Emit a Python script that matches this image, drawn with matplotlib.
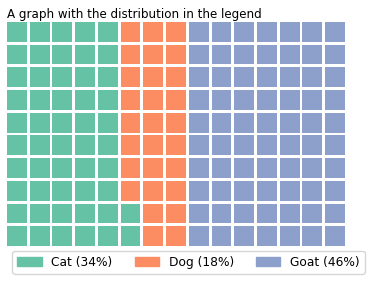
import matplotlib
matplotlib.use("Agg")
import matplotlib.pyplot as plt
from matplotlib.patches import Rectangle, Patch

categories = ["Cat", "Dog", "Goat"]
values = [34, 18, 46]
colors = ["#66c2a5", "#fc8d62", "#8da0cb"]
rows = 10
columns = 15

# scale values to the number of blocks
total = sum(values)
blocks = [round(v * rows * columns / total) for v in values]

fig = plt.figure(figsize=(3.71, 2.81), dpi=100)
ax = fig.add_axes([7 / 371, 35 / 281, 338 / 371, 224 / 281])

size = 0.87
idx = 0
for n, c in zip(blocks, colors):
    for _ in range(n):
        col = idx // rows
        row = idx % rows
        ax.add_patch(Rectangle((col, row), size, size, color=c, lw=0))
        idx += 1

ax.set_xlim(0, columns - 1 + size)
ax.set_ylim(0, rows - 1 + size)
ax.axis("off")

fig.text(7 / 371, 1 - 18 / 281, "A graph with the distribution in the legend",
         fontsize=8.6, va="baseline", ha="left")

handles = [Patch(color=c, label=f"{k} ({v}%)") for k, c, v in zip(categories, colors, values)]
fig.legend(handles=handles, loc="lower center", bbox_to_anchor=(0.508, 0.004),
           ncol=3, fontsize=8.8, frameon=True, handlelength=2.0, columnspacing=1.8)

fig.savefig("out.png", dpi=100)
